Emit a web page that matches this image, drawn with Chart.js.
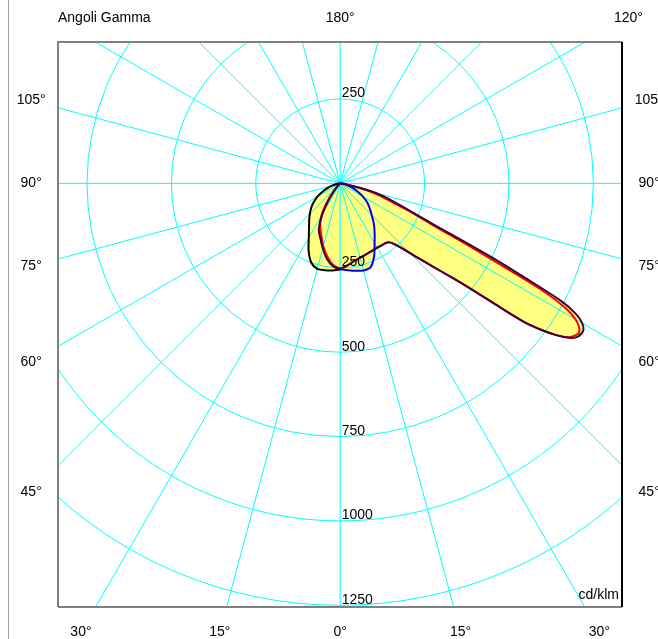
<!DOCTYPE html>
<html>
<head>
<meta charset="utf-8">
<script src="https://cdn.jsdelivr.net/npm/chart.js@4"></script>
<style>
  html, body { margin: 0; padding: 0; background: #fff; }
  #wrap { width: 658px; height: 639px; }
</style>
</head>
<body>
<div id="wrap"><canvas id="polar" width="658" height="639"></canvas></div>
<script>
// angoli gamma (gradi dal nadir) e intensità in cd/klm
const gammaC0 = [0, 5, 10, 15, 20, 25, 30, 35, 38, 40, 42, 44, 46, 48, 50, 51, 52, 53, 54, 55,
  56, 57, 58, 59, 60, 61, 62, 63, 64, 65, 66, 68, 70, 72, 74, 76, 78, 80, 85, 90];
const violaC0 = [252, 244, 234, 228, 224, 221, 220, 221, 223, 228, 244, 272, 313, 366, 438, 492, 575, 680, 740, 785,
  818, 836, 842, 841, 828, 800, 740, 610, 500, 395, 315, 240, 190, 155, 128, 90, 50, 22, 4, 0];
const rossoC0 = [252, 244, 234, 228, 224, 221, 220, 221, 223, 228, 244, 272, 313, 366, 438, 492, 575, 680, 740, 785,
  815, 828, 835, 825, 805, 765, 690, 545, 440, 350, 290, 222, 168, 135, 108, 75, 40, 16, 3, 0];

const gammaC180 = [0, 5, 10, 15, 20, 25, 30, 35, 40, 45, 50, 60, 90];
const rossoC180 = [252, 242, 220, 193, 163, 140, 112, 70, 32, 10, 2, 0, 0];
const violaC180 = [252, 246, 227, 199, 172, 150, 106, 55, 24, 7, 1, 0, 0];

const gammaC90 = [0, 5, 10, 15, 20, 25, 30, 35, 40, 45, 50, 55, 60, 65, 70, 75, 80, 85, 90];
const bluC90 = [254, 258, 263, 267, 264, 238, 204, 178, 155, 132, 114, 98, 78, 58, 40, 24, 11, 3, 0];
const neroC270 = [255, 259, 261, 262, 250, 221, 186, 161, 143, 127, 112, 95, 77, 57, 39, 23, 11, 3, 0];

// griglia e etichette
const cerchi = [250, 500, 750, 1000, 1250];
const passoRaggi = 15;
const angoliLati = [105, 90, 75, 60, 45];
const angoliBasso = [-30, -15, 0, 15, 30];
const angoliAlto = [180, 120];

const GIALLO = '#FFFF80';

// da (gamma, intensità) a x,y: lato = 1 destra, -1 sinistra
function polare(gammas, valori, lato) {
  return gammas.map((g, i) => {
    const a = g * Math.PI / 180;
    return { x: lato * valori[i] * Math.sin(a), y: -valori[i] * Math.cos(a) };
  });
}

// curva chiusa: sinistra da 90° a 0°, poi destra da 0° a 90°
function curvaPiano(gSx, vSx, gDx, vDx) {
  const sx = polare(gSx, vSx, -1).reverse();
  const dx = polare(gDx, vDx, 1).slice(1);
  return sx.concat(dx);
}

function linea(dati, colore) {
  return {
    data: dati,
    showLine: true,
    borderColor: colore,
    borderWidth: 2,
    backgroundColor: GIALLO,
    fill: 'shape',
    pointRadius: 0,
    tension: 0.3
  };
}

const grigliaPolare = {
  id: 'grigliaPolare',
  beforeDatasetsDraw(chart) {
    const { ctx, chartArea: a, scales: { x, y } } = chart;
    const cx = x.getPixelForValue(0), cy = y.getPixelForValue(0);
    const k = (x.getPixelForValue(1000) - cx) / 1000;
    ctx.save();
    ctx.beginPath();
    ctx.rect(a.left, a.top, a.right - a.left, a.bottom - a.top);
    ctx.clip();
    ctx.strokeStyle = '#00FFFF';
    ctx.lineWidth = 1;
    cerchi.forEach(v => {
      ctx.beginPath();
      ctx.arc(cx, cy, v * k, 0, Math.PI * 2);
      ctx.stroke();
    });
    for (let g = 0; g < 360; g += passoRaggi) {
      const r = g * Math.PI / 180;
      ctx.beginPath();
      ctx.moveTo(cx, cy);
      ctx.lineTo(cx + 2000 * Math.sin(r), cy + 2000 * Math.cos(r));
      ctx.stroke();
    }
    ctx.restore();
  },
  afterDraw(chart) {
    const { ctx, chartArea: a, scales: { x, y } } = chart;
    const cx = x.getPixelForValue(0), cy = y.getPixelForValue(0);
    const k = (x.getPixelForValue(1000) - cx) / 1000;
    ctx.save();
    // cornice
    ctx.lineWidth = 2;
    ctx.strokeStyle = '#808080';
    ctx.beginPath();
    ctx.moveTo(a.left, a.bottom);
    ctx.lineTo(a.left, a.top);
    ctx.lineTo(a.right, a.top);
    ctx.moveTo(a.left, a.bottom);
    ctx.lineTo(a.right, a.bottom);
    ctx.stroke();
    ctx.strokeStyle = '#000000';
    ctx.beginPath();
    ctx.moveTo(a.right, a.top);
    ctx.lineTo(a.right, a.bottom);
    ctx.stroke();
    ctx.lineWidth = 1;
    ctx.strokeStyle = '#A0A0A0';
    ctx.beginPath();
    ctx.moveTo(8.5, 0);
    ctx.lineTo(8.5, chart.height);
    ctx.stroke();

    ctx.fillStyle = '#000';
    ctx.font = '14px "Liberation Sans", Arial, sans-serif';
    // valori dei cerchi
    ctx.textAlign = 'left';
    ctx.textBaseline = 'alphabetic';
    ctx.fillText(String(cerchi[0]), cx + 1.5, cy - cerchi[0] * k - 2);
    cerchi.forEach(v => ctx.fillText(String(v), cx + 1.5, cy + v * k - 1.5));
    ctx.textAlign = 'right';
    ctx.fillText('cd/klm', a.right - 3, a.bottom - 8);

    ctx.textAlign = 'left';
    ctx.fillText('Angoli Gamma', a.left, 22);
    // angoli in alto
    ctx.textAlign = 'center';
    angoliAlto.forEach(g => {
      const r = g * Math.PI / 180;
      const dy = cy - 17;
      const dx = dy * Math.tan(Math.PI - r);
      ctx.fillText(g + '°', cx + dx, 22);
    });
    // angoli sui lati
    ctx.textBaseline = 'middle';
    angoliLati.forEach(g => {
      const r = g * Math.PI / 180;
      const yy = cy + 309 * Math.cos(r) / Math.sin(r);
      ctx.fillText(g + '°', cx - 309, yy);
      ctx.fillText(g + '°', cx + 309, yy);
    });
    // angoli in basso
    angoliBasso.forEach(g => {
      const xx = cx + 449 * Math.tan(g * Math.PI / 180);
      ctx.fillText(Math.abs(g) + '°', xx, cy + 449);
    });
    ctx.restore();
  }
};

const ctx = document.getElementById('polar');
new Chart(ctx, {
  type: 'scatter',
  data: {
    datasets: [
      linea(curvaPiano(gammaC180, violaC180, gammaC0, violaC0), '#400040'),
      linea(polare(gammaC90, neroC270, -1).reverse(), '#000000'),
      linea(polare(gammaC90, bluC90, 1), '#0000FF'),
      linea(curvaPiano(gammaC180, rossoC180, gammaC0, rossoC0), '#FF0000')
    ]
  },
  options: {
    responsive: false,
    animation: false,
    layout: { padding: { left: 58, right: 36, top: 42, bottom: 32 } },
    scales: {
      x: { type: 'linear', min: -836, max: 835, display: false },
      y: { type: 'linear', min: -1255, max: 419, display: false }
    },
    plugins: {
      legend: { display: false },
      tooltip: { enabled: false },
      filler: { propagate: false, drawTime: 'beforeDatasetsDraw' }
    }
  },
  plugins: [grigliaPolare]
});
</script>
</body>
</html>
